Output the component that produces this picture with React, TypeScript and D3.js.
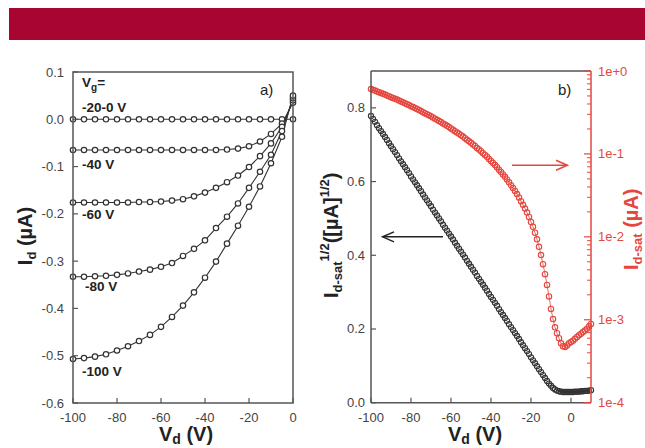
import React from "react";
import * as d3 from "d3";

// ---------- data: panel a (output curves) ----------
const vdA = [-100, -95, -90, -85, -80, -75, -70, -65, -60, -55, -50, -45, -40, -35, -30, -25, -20, -15, -10, -5, 0];
const idVg20to0 = [0, 0, 0, 0, 0, 0, 0, 0, 0, 0, 0, 0, 0, 0, 0, 0, 0, 0, 0, 0, 0];
const idVg40 = [-0.065, -0.065, -0.065, -0.065, -0.065, -0.065, -0.065, -0.065, -0.065, -0.065, -0.065, -0.065, -0.065, -0.065, -0.064, -0.062, -0.057, -0.047, -0.031, -0.009, 0.035];
const idVg60 = [-0.176, -0.176, -0.176, -0.176, -0.176, -0.176, -0.175, -0.175, -0.174, -0.172, -0.169, -0.163, -0.155, -0.145, -0.133, -0.119, -0.101, -0.078, -0.051, -0.016, 0.040];
const idVg80 = [-0.333, -0.333, -0.332, -0.331, -0.329, -0.326, -0.322, -0.318, -0.312, -0.304, -0.289, -0.274, -0.256, -0.230, -0.206, -0.178, -0.145, -0.111, -0.075, -0.025, 0.045];
const idVg100 = [-0.507, -0.505, -0.502, -0.497, -0.489, -0.480, -0.469, -0.456, -0.439, -0.418, -0.394, -0.366, -0.335, -0.301, -0.263, -0.225, -0.185, -0.142, -0.093, -0.037, 0.050];
const curveLabels = ["-20-0 V", "-40 V", "-60 V", "-80 V", "-100 V"];

// ---------- data: panel b (transfer curve) ----------
const vdB = [
  -100, -99, -98, -97, -96, -95, -94, -93, -92, -91, -90, -89, -88, -87, -86, -85, -84, -83, -82, -81,
  -80, -79, -78, -77, -76, -75, -74, -73, -72, -71, -70, -69, -68, -67, -66, -65, -64, -63, -62, -61,
  -60, -59, -58, -57, -56, -55, -54, -53, -52, -51, -50, -49, -48, -47, -46, -45, -44, -43, -42, -41,
  -40, -39, -38, -37, -36, -35, -34, -33, -32, -31, -30, -29, -28, -27, -26, -25, -24, -23, -22, -21,
  -20, -19, -18, -17, -16, -15, -14, -13, -12, -11, -10, -9, -8, -7, -6, -5, -4, -3, -2, -1,
  0, 1, 2, 3, 4, 5, 6, 7, 8, 9, 10,
];
const sqrtIdSat = [
  0.778, 0.770, 0.762, 0.753, 0.745, 0.737, 0.729, 0.721, 0.713, 0.704, 0.696, 0.688, 0.680, 0.672, 0.663, 0.655, 0.647, 0.639, 0.631, 0.623,
  0.614, 0.606, 0.598, 0.590, 0.582, 0.574, 0.565, 0.557, 0.549, 0.541, 0.533, 0.524, 0.516, 0.508, 0.500, 0.492, 0.483, 0.475, 0.467, 0.459,
  0.451, 0.443, 0.434, 0.426, 0.418, 0.410, 0.402, 0.394, 0.385, 0.377, 0.369, 0.361, 0.353, 0.344, 0.336, 0.328, 0.320, 0.312, 0.304, 0.295,
  0.287, 0.279, 0.271, 0.263, 0.254, 0.246, 0.238, 0.230, 0.222, 0.213, 0.205, 0.197, 0.189, 0.181, 0.173, 0.164, 0.156, 0.148, 0.140, 0.132,
  0.123, 0.115, 0.107, 0.099, 0.091, 0.083, 0.075, 0.067, 0.059, 0.052, 0.046, 0.040, 0.036, 0.033, 0.031, 0.030, 0.029, 0.029, 0.029, 0.029,
  0.029, 0.029, 0.030, 0.030, 0.030, 0.031, 0.031, 0.032, 0.032, 0.033, 0.034,
];
const idSat = [
  0.605, 0.593, 0.581, 0.567, 0.555, 0.543, 0.531, 0.520, 0.508, 0.496, 0.484, 0.473, 0.462, 0.452, 0.440, 0.429, 0.419, 0.408, 0.398, 0.388,
  0.377, 0.367, 0.358, 0.348, 0.339, 0.329, 0.319, 0.310, 0.301, 0.293, 0.284, 0.275, 0.266, 0.258, 0.250, 0.242, 0.233, 0.226, 0.218, 0.211,
  0.203, 0.196, 0.188, 0.181, 0.175, 0.168, 0.162, 0.155, 0.148, 0.142, 0.136, 0.130, 0.125, 0.118, 0.113, 0.108, 0.102, 0.0973, 0.0924, 0.0870,
  0.0824, 0.0778, 0.0734, 0.0692, 0.0645, 0.0605, 0.0566, 0.0529, 0.0493, 0.0454, 0.0420, 0.0388, 0.0357, 0.0328, 0.0299, 0.0269, 0.0243, 0.0219, 0.0196, 0.0174,
  0.0151, 0.0132, 0.0112, 0.00933, 0.00759, 0.00603, 0.00468, 0.00355, 0.00263, 0.00191, 0.00135, 0.00102, 0.00081, 0.00069, 0.00060, 0.00052, 0.00048, 0.00047, 0.00049, 0.00052,
  0.00054, 0.00056, 0.00059, 0.00062, 0.00065, 0.00068, 0.00071, 0.00074, 0.00078, 0.00083, 0.00089,
];

const ticksAX = [-100, -80, -60, -40, -20, 0];
const ticksAY = [0.1, 0.0, -0.1, -0.2, -0.3, -0.4, -0.5, -0.6];
const ticksBX = [-100, -80, -60, -40, -20, 0];
const ticksBY = [0.0, 0.2, 0.4, 0.6, 0.8];
const ticksBLog = [1, 0.1, 0.01, 0.001, 0.0001];
const logLabels = ["1e+0", "1e-1", "1e-2", "1e-3", "1e-4"];

const FONT = "'Liberation Sans', Arial, Helvetica, sans-serif";
const RED = "#e5473e";
const AXIS = "#555";
const TXT = "#444";
const DARK = "#222";

export default function App() {
  // panel a scales
  const xA = d3.scaleLinear().domain([-100, 0]).range([73, 293]);
  const yA = d3.scaleLinear().domain([-0.6, 0.1]).range([403, 72]);
  // panel b scales
  const xB = d3.scaleLinear().domain([-100, 10]).range([371, 591]);
  const yB = d3.scaleLinear().domain([0, 0.9]).range([402.7, 71]);
  const yLog = d3.scaleLog().domain([1e-4, 1]).range([402.7, 71]);

  const seriesA = [idVg20to0, idVg40, idVg60, idVg80, idVg100];
  const lineA = d3.line<number>().x((_, i) => xA(vdA[i])).y((d) => yA(d));
  const lineRed = d3.line<number>().x((_, i) => xB(vdB[i])).y((d) => yLog(d));

  const labelPos = [
    { v: 0.0, dy: -21 },
    { v: -0.1, dy: 2 },
    { v: -0.2, dy: 5 },
    { v: -0.35, dy: 6 },
    { v: -0.5, dy: 20 },
  ];

  const minorLog: number[] = [];
  for (let e = -4; e < 0; e++) {
    for (let m = 2; m <= 9; m++) minorLog.push(m * Math.pow(10, e));
  }

  return (
    <svg
      width={645}
      height={448}
      style={{ position: "absolute", left: 0, top: 0, background: "#fff" }}
      fontFamily={FONT}
    >
      <rect x={9} y={8} width={636} height={32} fill="#a90533" />

      {/* ---------------- panel a ---------------- */}
      <g>
        {seriesA.map((s, k) => (
          <path key={"la" + k} d={lineA(s) || ""} fill="none" stroke="#333" strokeWidth={1.1} />
        ))}
        {seriesA.map((s, k) =>
          s.map((d, i) => (
            <circle
              key={"ca" + k + "-" + i}
              cx={xA(vdA[i])}
              cy={yA(d)}
              r={2.7}
              fill="#fff"
              stroke="#333"
              strokeWidth={1.2}
            />
          ))
        )}
        <rect x={73} y={72} width={220} height={331} fill="none" stroke={AXIS} strokeWidth={1.5} />
        {ticksAY.map((t) => (
          <g key={"tay" + t}>
            <line x1={73} x2={78} y1={yA(t)} y2={yA(t)} stroke={AXIS} strokeWidth={1.2} />
            <text x={64} y={yA(t) + 4.5} fontSize={13} fill={TXT} textAnchor="end">
              {t.toFixed(1)}
            </text>
          </g>
        ))}
        {ticksAX.map((t) => (
          <g key={"tax" + t}>
            <line x1={xA(t)} x2={xA(t)} y1={403} y2={398} stroke={AXIS} strokeWidth={1.2} />
            <text x={xA(t)} y={421.5} fontSize={13} fill={TXT} textAnchor="middle">
              {t}
            </text>
          </g>
        ))}
        <text x={82} y={87} fontSize={13.5} fontWeight="bold" fill={DARK}>
          V<tspan fontSize={10} dy={4}>g</tspan>
          <tspan dy={-4}>=</tspan>
        </text>
        {curveLabels.map((lab, k) => (
          <text
            key={"lab" + k}
            x={k === 3 ? 85 : 82}
            y={yA(labelPos[k].v) + labelPos[k].dy + (k === 0 ? 14 : 0)}
            fontSize={13.5}
            fontWeight="bold"
            fill={DARK}
          >
            {lab}
          </text>
        ))}
        <text x={260} y={95} fontSize={15} fill={DARK}>
          a)
        </text>
        <text
          transform="translate(32,236) rotate(-90)"
          textAnchor="middle"
          fontSize={20}
          fontWeight="bold"
          fill={DARK}
        >
          I<tspan fontSize={13} dy={4}>d</tspan>
          <tspan dy={-4}> (µA)</tspan>
        </text>
        <text x={186} y={441} textAnchor="middle" fontSize={20} fontWeight="bold" fill={DARK}>
          V<tspan fontSize={14} dy={3}>d</tspan>
          <tspan dy={-3}> (V)</tspan>
        </text>
      </g>

      {/* ---------------- panel b ---------------- */}
      <g>
        <path d={lineRed(idSat) || ""} fill="none" stroke={RED} strokeWidth={0.8} />
        {idSat.map((d, i) => (
          <circle
            key={"cr" + i}
            cx={xB(vdB[i])}
            cy={yLog(d)}
            r={2.7}
            fill="none"
            stroke={RED}
            strokeWidth={1.1}
          />
        ))}
        {sqrtIdSat.map((d, i) => (
          <circle
            key={"cb" + i}
            cx={xB(vdB[i])}
            cy={yB(d)}
            r={2.6}
            fill="none"
            stroke="#333"
            strokeWidth={1.1}
          />
        ))}
        <line x1={371} x2={591} y1={71} y2={71} stroke={AXIS} strokeWidth={1.5} />
        <line x1={371} x2={591} y1={402.7} y2={402.7} stroke={AXIS} strokeWidth={1.5} />
        <line x1={371} x2={371} y1={71} y2={402.7} stroke={AXIS} strokeWidth={1.5} />
        <line x1={591} x2={591} y1={71} y2={402.7} stroke={RED} strokeWidth={1.5} />
        {ticksBY.map((t) => (
          <g key={"tby" + t}>
            <line x1={371} x2={376} y1={yB(t)} y2={yB(t)} stroke={AXIS} strokeWidth={1.2} />
            <text x={365} y={yB(t) + 4.5} fontSize={13} fill={TXT} textAnchor="end">
              {t.toFixed(1)}
            </text>
          </g>
        ))}
        {ticksBX.map((t) => (
          <g key={"tbx" + t}>
            <line x1={xB(t)} x2={xB(t)} y1={402.7} y2={397.7} stroke={AXIS} strokeWidth={1.2} />
            <text x={xB(t)} y={421.5} fontSize={13} fill={TXT} textAnchor="middle">
              {t}
            </text>
          </g>
        ))}
        {ticksBLog.map((t, i) => (
          <g key={"tbl" + i}>
            <line x1={591} x2={584} y1={yLog(t)} y2={yLog(t)} stroke={RED} strokeWidth={1.2} />
            <text x={598} y={yLog(t) + 4.5} fontSize={13} fill={RED}>
              {logLabels[i]}
            </text>
          </g>
        ))}
        {minorLog.map((t, i) => (
          <line key={"mn" + i} x1={591} x2={587} y1={yLog(t)} y2={yLog(t)} stroke={RED} strokeWidth={1} />
        ))}
        <text x={558} y={95} fontSize={15} fill={DARK}>
          b)
        </text>
        {/* arrows */}
        <g stroke="#222" strokeWidth={1.5} fill="none">
          <line x1={xB(-64)} x2={xB(-94.2)} y1={yB(0.45)} y2={yB(0.45)} />
          <polyline
            points={`${xB(-88.5)},${yB(0.45) - 5} ${xB(-94.2)},${yB(0.45)} ${xB(-88.5)},${yB(0.45) + 5}`}
          />
        </g>
        <g stroke={RED} strokeWidth={1.5} fill="none">
          <line x1={xB(-29.5)} x2={xB(-1.8)} y1={yLog(0.073)} y2={yLog(0.073)} />
          <polyline
            points={`${xB(-7.5)},${yLog(0.073) - 5} ${xB(-1.8)},${yLog(0.073)} ${xB(-7.5)},${yLog(0.073) + 5}`}
          />
        </g>
        <text
          transform="translate(338,298) rotate(-90)"
          fontSize={20}
          fontWeight="bold"
          fill={DARK}
        >
          I<tspan fontSize={13} dy={4}>d-sat</tspan>
          <tspan fontSize={13} dy={-13}>1/2</tspan>
          <tspan dy={9}>([µA]</tspan>
          <tspan fontSize={13} dy={-9}>1/2</tspan>
          <tspan dy={9}>)</tspan>
        </text>
        <text
          transform="translate(638,270) rotate(-90)"
          fontSize={20}
          fontWeight="bold"
          fill={RED}
        >
          I<tspan fontSize={13} dy={4}>d-sat</tspan>
          <tspan dy={-4}> (µA)</tspan>
        </text>
        <text x={475} y={441} textAnchor="middle" fontSize={20} fontWeight="bold" fill={DARK}>
          V<tspan fontSize={14} dy={3}>d</tspan>
          <tspan dy={-3}> (V)</tspan>
        </text>
      </g>
    </svg>
  );
}
